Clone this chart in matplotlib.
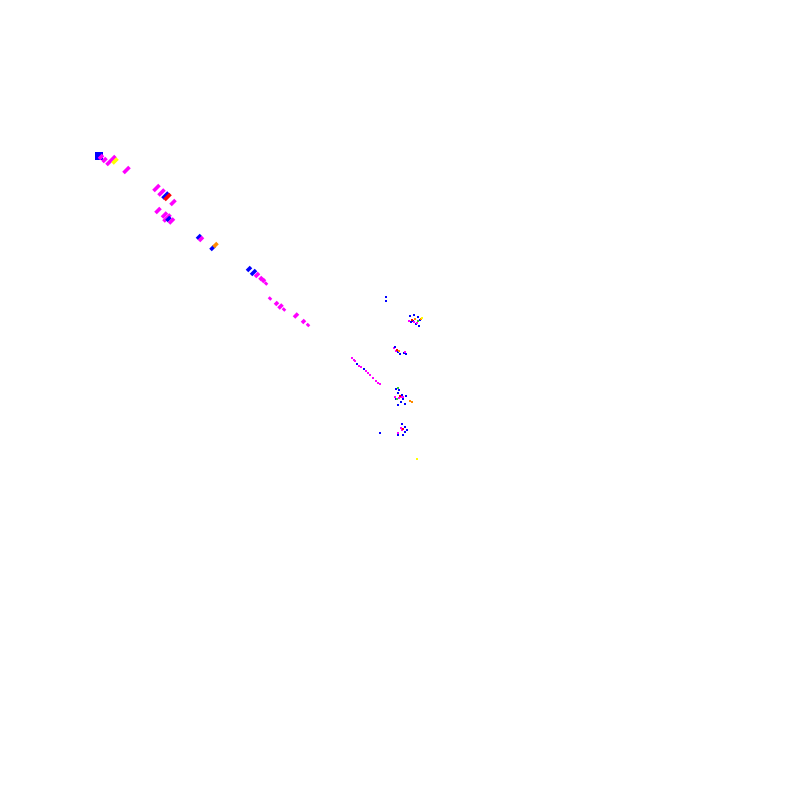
import matplotlib
matplotlib.use("Agg")
import matplotlib.pyplot as plt

# short "/" dashes: centre x, centre y, half extent, colour
dash_x = [101, 104.5, 111, 115, 126.5, 156.5, 161.5, 165.5, 167.5, 173,
          158, 164.5, 167, 168.5, 171.5, 199, 201, 212.5, 215.5,
          249, 253.5, 257, 261, 263.5, 266, 270, 276.5, 280.5, 284,
          296, 303.5, 308]
dash_y = [157, 160, 160.5, 161, 170, 188, 192.5, 195.5, 197, 202.5,
          210.5, 215, 218, 219, 221, 237, 239, 248, 245,
          269, 272.5, 275, 278.5, 280.5, 283.5, 298.5, 303.5, 306.5, 309.5,
          315.5, 321.5, 325]
dash_h = [2, 2, 4.5, 2.5, 3, 3, 3, 3, 3, 2.5,
          2.5, 2.5, 3.5, 2, 2.5, 2, 2, 2, 2,
          2, 2.5, 2, 1.5, 1.5, 1, 1, 1.5, 2, 1,
          2, 1.5, 1]
dash_c = ['magenta', 'magenta', 'magenta', 'yellow', 'magenta', 'magenta', 'magenta', 'blue', 'red', 'magenta',
          'magenta', 'magenta', 'magenta', 'blue', 'magenta', 'blue', 'magenta', 'blue', 'darkorange',
          'blue', 'blue', 'magenta', 'magenta', 'magenta', 'magenta', 'magenta', 'magenta', 'magenta', 'magenta',
          'magenta', 'magenta', 'magenta']

# single pixels / specks
dot_x = [99, 386, 386,
         410, 414, 418, 420, 413, 416, 419, 411, 409, 414, 417, 412, 421, 415, 418, 422,
         394, 396, 395, 398, 400, 404, 406, 397, 399, 405,
         352, 354, 355, 357, 359, 361, 364, 366, 368, 370, 373, 376, 378, 380,
         396, 399, 398, 402, 406, 403, 396, 401, 405, 410, 398, 395, 399, 401, 403, 400, 398, 397, 412,
         402, 405, 407, 405, 403, 401, 402, 403, 380, 398, 398, 417]
dot_y = [156, 297, 301,
         316, 315, 317, 320, 321, 324, 326, 322, 321, 322, 323, 320, 319, 319, 321, 318,
         348, 351, 347, 352, 354, 353, 354, 350, 351, 352,
         358, 360, 361, 364, 366, 367, 369, 371, 373, 375, 378, 381, 383, 384,
         389, 390, 393, 395, 396, 399, 399, 402, 404, 401, 405, 397, 398, 397, 397, 396, 388, 399, 402,
         424, 427, 430, 432, 435, 428, 430, 429, 433, 433, 435, 459]
dot_c = ['blue', 'blue', 'blue',
         'blue', 'blue', 'blue', 'blue', 'blue', 'blue', 'blue', 'blue', 'magenta', 'magenta', 'magenta', 'red', 'darkorange', 'darkorange', 'limegreen', 'yellow',
         'magenta', 'magenta', 'blue', 'blue', 'blue', 'blue', 'blue', 'red', 'darkorange', 'magenta',
         'magenta', 'magenta', 'magenta', 'blue', 'magenta', 'magenta', 'blue', 'magenta', 'magenta', 'magenta', 'magenta', 'magenta', 'magenta', 'magenta',
         'blue', 'blue', 'blue', 'blue', 'blue', 'blue', 'blue', 'blue', 'blue', 'darkorange', 'blue', 'magenta', 'magenta', 'magenta', 'magenta', 'red', 'limegreen', 'limegreen', 'darkorange',
         'blue', 'blue', 'blue', 'blue', 'blue', 'magenta', 'magenta', 'red', 'blue', 'magenta', 'blue', 'yellow']
dot_s = [34, 2.5, 2.5] + [3] * (len(dot_x) - 3)

fig = plt.figure(figsize=(8, 8), dpi=100)
ax = fig.add_axes([0, 0, 1, 1])
ax.set_xlim(0, 800)
ax.set_ylim(800, 0)
ax.axis('off')

for x, y, h, c in zip(dash_x, dash_y, dash_h, dash_c):
    ax.plot([x - h, x + h], [y + h, y - h], color=c, lw=2.6, solid_capstyle='butt')

ax.scatter(dot_x, dot_y, s=dot_s, c=dot_c, marker='s', linewidths=0)

fig.savefig("out.png", dpi=100, facecolor='white')
